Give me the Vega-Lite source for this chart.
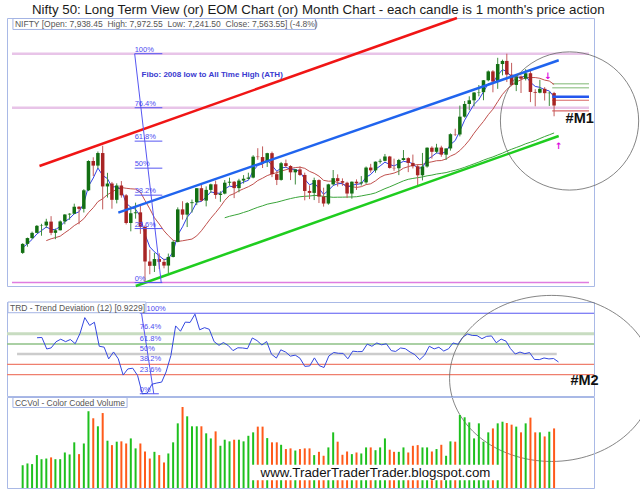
{
"$schema": "https://vega.github.io/schema/vega-lite/v6.json",
"padding": {"left": 5, "top": 2, "right": 0, "bottom": 0},
"background": "white",
"config": {"font": "Liberation Sans", "view": {"stroke": "#a9b9e6", "strokeWidth": 1}},
"title": {"text": "Nifty 50: Long Term View (or) EOM Chart (or) Month Chart - each candle is 1 month's price action", "anchor": "start", "dx": 27, "fontSize": 13.3, "fontWeight": "normal", "font": "Liberation Sans", "color": "#1a1a1a", "offset": 0},
"datasets": {
"m": [
{"d":"2006-08-01","o":3143,"h":3433,"l":3113,"c":3413,"v":139000,"e":3300},
{"d":"2006-09-01","o":3413,"h":3603,"l":3328,"c":3588,"v":150000,"e":3415},
{"d":"2006-10-01","o":3588,"h":3782,"l":3555,"c":3744,"v":146000,"e":3547},
{"d":"2006-11-01","o":3744,"h":3980,"l":3737,"c":3955,"v":201000,"e":3710},
{"d":"2006-12-01","o":3955,"h":4016,"l":3658,"c":3966,"v":176000,"t":1.160,"e":3812},
{"d":"2007-01-01","o":3966,"h":4167,"l":3889,"c":4082,"v":180000,"t":1.163,"e":3920,"s":3511},
{"d":"2007-02-01","o":4082,"h":4245,"l":3675,"c":3745,"v":187000,"t":1.050,"e":3850,"s":3566},
{"d":"2007-03-01","o":3745,"h":3875,"l":3554,"c":3822,"v":176000,"t":1.061,"e":3839,"s":3601},
{"d":"2007-04-01","o":3822,"h":4117,"l":3817,"c":4087,"v":176000,"t":1.121,"e":3938,"s":3645},
{"d":"2007-05-01","o":4087,"h":4306,"l":4002,"c":4295,"v":217000,"t":1.146,"e":4082,"s":3747},
{"d":"2007-06-01","o":4295,"h":4335,"l":4136,"c":4318,"v":205000,"t":1.122,"e":4176,"s":3847},
{"d":"2007-07-01","o":4318,"h":4620,"l":4306,"c":4528,"v":279000,"t":1.143,"e":4317,"s":3962},
{"d":"2007-08-01","o":4528,"h":4545,"l":4002,"c":4464,"v":207000,"t":1.102,"e":4376,"s":4050},
{"d":"2007-09-01","o":4464,"h":5055,"l":4355,"c":5021,"v":272000,"t":1.204,"e":4634,"s":4169},
{"d":"2007-10-01","o":5021,"h":5922,"l":4997,"c":5900,"v":469000,"t":1.357,"e":5140,"s":4349},
{"d":"2007-11-01","o":5900,"h":6012,"l":5450,"c":5762,"v":426000,"t":1.281,"e":5389,"s":4499},
{"d":"2007-12-01","o":5762,"h":6185,"l":5676,"c":6139,"v":377000,"t":1.312,"e":5689,"s":4680},
{"d":"2008-01-01","o":6139,"h":6357,"l":4448,"c":5137,"v":458000,"t":1.077,"e":5468,"s":4768},
{"d":"2008-02-01","o":5137,"h":5545,"l":4803,"c":5224,"v":289000,"t":1.068,"e":5370,"s":4891},
{"d":"2008-03-01","o":5224,"h":5272,"l":4468,"c":4735,"v":262000,"t":0.953,"e":5116,"s":4968},
{"d":"2008-04-01","o":4735,"h":5230,"l":4628,"c":5165,"v":283000,"t":1.021,"e":5136,"s":5057},
{"d":"2008-05-01","o":5165,"h":5298,"l":4801,"c":4870,"v":285000,"t":0.954,"e":5030,"s":5105},
{"d":"2008-06-01","o":4870,"h":4908,"l":3996,"c":4040,"v":272000,"t":0.795,"e":4634,"s":5082},
{"d":"2008-07-01","o":4040,"h":4539,"l":3790,"c":4333,"v":303000,"t":0.855,"e":4514,"s":5066},
{"d":"2008-08-01","o":4333,"h":4650,"l":4170,"c":4360,"v":242000,"t":0.862,"e":4452,"s":5057},
{"d":"2008-09-01","o":4360,"h":4558,"l":3715,"c":3921,"v":272000,"t":0.790,"e":4240,"s":4966},
{"d":"2008-10-01","o":3921,"h":3968,"l":2252,"c":2885,"v":223000,"t":0.612,"e":3698,"s":4714},
{"d":"2008-11-01","o":2885,"h":3240,"l":2502,"c":2755,"v":180000,"t":0.617,"e":3321,"s":4464},
{"d":"2008-12-01","o":2755,"h":3147,"l":2570,"c":2959,"v":221000,"t":0.705,"e":3176,"s":4199},
{"d":"2009-01-01","o":2959,"h":3131,"l":2661,"c":2874,"v":201000,"t":0.717,"e":3055,"s":4010},
{"d":"2009-02-01","o":2874,"h":2968,"l":2681,"c":2763,"v":156000,"t":0.726,"e":2938,"s":3805},
{"d":"2009-03-01","o":2763,"h":3123,"l":2539,"c":3021,"v":211000,"t":0.825,"e":2971,"s":3662},
{"d":"2009-04-01","o":3021,"h":3517,"l":3007,"c":3474,"v":279000,"t":0.987,"e":3172,"s":3521},
{"d":"2009-05-01","o":3474,"h":4509,"l":3460,"c":4449,"v":395000,"t":1.276,"e":3683,"s":3486},
{"d":"2009-06-01","o":4449,"h":4693,"l":4143,"c":4291,"v":495000,"t":1.224,"e":3926,"s":3507},
{"d":"2009-07-01","o":4291,"h":4669,"l":3918,"c":4636,"v":438000,"t":1.313,"e":4210,"s":3532},
{"d":"2009-08-01","o":4636,"h":4744,"l":4353,"c":4662,"v":377000,"t":1.310,"e":4391,"s":3558},
{"d":"2009-09-01","o":4662,"h":5087,"l":4577,"c":5084,"v":377000,"t":1.391,"e":4668,"s":3654},
{"d":"2009-10-01","o":5084,"h":5182,"l":4687,"c":4712,"v":377000,"t":1.238,"e":4686,"s":3807},
{"d":"2009-11-01","o":4712,"h":5138,"l":4538,"c":5033,"v":334000,"t":1.259,"e":4825,"s":3997},
{"d":"2009-12-01","o":5033,"h":5221,"l":4943,"c":5201,"v":303000,"t":1.243,"e":4975,"s":4183},
{"d":"2010-01-01","o":5201,"h":5311,"l":4766,"c":4882,"v":346000,"t":1.122,"e":4938,"s":4351},
{"d":"2010-02-01","o":4882,"h":4992,"l":4675,"c":4922,"v":258000,"t":1.086,"e":4932,"s":4531},
{"d":"2010-03-01","o":4922,"h":5329,"l":4900,"c":5249,"v":295000,"t":1.113,"e":5059,"s":4716,"g":4197},
{"d":"2010-04-01","o":5249,"h":5399,"l":5160,"c":5278,"v":285000,"t":1.084,"e":5147,"s":4867,"g":4241},
{"d":"2010-05-01","o":5278,"h":5300,"l":4786,"c":5087,"v":295000,"t":1.034,"e":5123,"s":4920,"g":4275},
{"d":"2010-06-01","o":5087,"h":5366,"l":4961,"c":5313,"v":295000,"t":1.062,"e":5199,"s":5005,"g":4310},
{"d":"2010-07-01","o":5313,"h":5477,"l":5225,"c":5368,"v":285000,"t":1.060,"e":5267,"s":5066,"g":4356},
{"d":"2010-08-01","o":5368,"h":5549,"l":5348,"c":5402,"v":319000,"t":1.053,"e":5321,"s":5128,"g":4401},
{"d":"2010-09-01","o":5402,"h":6073,"l":5380,"c":6030,"v":340000,"t":1.158,"e":5605,"s":5206,"g":4459},
{"d":"2010-10-01","o":6030,"h":6284,"l":5937,"c":6018,"v":375000,"t":1.132,"e":5770,"s":5315,"g":4511},
{"d":"2010-11-01","o":6018,"h":6338,"l":5690,"c":5863,"v":375000,"t":1.089,"e":5807,"s":5384,"g":4556},
{"d":"2010-12-01","o":5863,"h":6147,"l":5721,"c":6135,"v":305000,"t":1.123,"e":5938,"s":5462,"g":4604},
{"d":"2011-01-01","o":6135,"h":6181,"l":5416,"c":5506,"v":279000,"t":0.999,"e":5765,"s":5514,"g":4635},
{"d":"2011-02-01","o":5506,"h":5600,"l":5178,"c":5333,"v":279000,"t":0.961,"e":5592,"s":5549,"g":4663},
{"d":"2011-03-01","o":5333,"h":5872,"l":5310,"c":5834,"v":264000,"t":1.042,"e":5689,"s":5597,"g":4698},
{"d":"2011-04-01","o":5834,"h":5944,"l":5693,"c":5750,"v":238000,"t":1.020,"e":5713,"s":5637,"g":4738},
{"d":"2011-05-01","o":5750,"h":5775,"l":5328,"c":5560,"v":242000,"t":0.980,"e":5652,"s":5676,"g":4773},
{"d":"2011-06-01","o":5560,"h":5657,"l":5195,"c":5647,"v":229000,"t":0.990,"e":5650,"s":5704,"g":4804},
{"d":"2011-07-01","o":5647,"h":5740,"l":5453,"c":5482,"v":238000,"t":0.960,"e":5583,"s":5713,"g":4828},
{"d":"2011-08-01","o":5482,"h":5551,"l":4720,"c":5001,"v":242000,"t":0.880,"e":5350,"s":5680,"g":4841},
{"d":"2011-09-01","o":5001,"h":5170,"l":4758,"c":4943,"v":242000,"t":0.884,"e":5187,"s":5589,"g":4849},
{"d":"2011-10-01","o":4943,"h":5400,"l":4728,"c":5327,"v":201000,"t":0.963,"e":5243,"s":5532,"g":4867},
{"d":"2011-11-01","o":5327,"h":5350,"l":4639,"c":4832,"v":221000,"t":0.887,"e":5079,"s":5446,"g":4863},
{"d":"2011-12-01","o":4832,"h":5099,"l":4531,"c":4624,"v":197000,"t":0.869,"e":4897,"s":5320,"g":4837},
{"d":"2012-01-01","o":4624,"h":5217,"l":4588,"c":5199,"v":248000,"t":0.982,"e":5018,"s":5294,"g":4826},
{"d":"2012-02-01","o":5199,"h":5630,"l":5159,"c":5385,"v":340000,"t":1.016,"e":5165,"s":5299,"g":4811},
{"d":"2012-03-01","o":5385,"h":5499,"l":5135,"c":5296,"v":283000,"t":1.008,"e":5217,"s":5254,"g":4814},
{"d":"2012-04-01","o":5296,"h":5379,"l":5155,"c":5248,"v":203000,"t":1.007,"e":5229,"s":5212,"g":4815},
{"d":"2012-05-01","o":5248,"h":5279,"l":4789,"c":4924,"v":223000,"t":0.954,"e":5107,"s":5159,"g":4819},
{"d":"2012-06-01","o":4924,"h":5286,"l":4770,"c":5279,"v":207000,"t":1.029,"e":5176,"s":5128,"g":4821},
{"d":"2012-07-01","o":5279,"h":5348,"l":5032,"c":5229,"v":217000,"t":1.024,"e":5197,"s":5107,"g":4828},
{"d":"2012-08-01","o":5229,"h":5448,"l":5164,"c":5259,"v":211000,"t":1.025,"e":5222,"s":5129,"g":4852},
{"d":"2012-09-01","o":5259,"h":5735,"l":5215,"c":5703,"v":248000,"t":1.098,"e":5414,"s":5192,"g":4880},
{"d":"2012-10-01","o":5703,"h":5815,"l":5548,"c":5620,"v":248000,"t":1.077,"e":5496,"s":5217,"g":4905},
{"d":"2012-11-01","o":5620,"h":5885,"l":5548,"c":5880,"v":231000,"t":1.109,"e":5650,"s":5304,"g":4944},
{"d":"2012-12-01","o":5880,"h":5965,"l":5823,"c":5905,"v":248000,"t":1.091,"e":5752,"s":5411,"g":5005},
{"d":"2013-01-01","o":5905,"h":6111,"l":5890,"c":6035,"v":303000,"t":1.101,"e":5865,"s":5480,"g":5070},
{"d":"2013-02-01","o":6035,"h":6053,"l":5671,"c":5693,"v":234000,"t":1.034,"e":5796,"s":5506,"g":5125},
{"d":"2013-03-01","o":5693,"h":5971,"l":5605,"c":5683,"v":221000,"t":1.026,"e":5751,"s":5538,"g":5181},
{"d":"2013-04-01","o":5683,"h":5963,"l":5477,"c":5930,"v":221000,"t":1.060,"e":5823,"s":5595,"g":5244},
{"d":"2013-05-01","o":5930,"h":6229,"l":5910,"c":5986,"v":248000,"t":1.053,"e":5888,"s":5684,"g":5304},
{"d":"2013-06-01","o":5986,"h":6012,"l":5566,"c":5842,"v":217000,"t":1.020,"e":5870,"s":5730,"g":5351},
{"d":"2013-07-01","o":5842,"h":6093,"l":5676,"c":5742,"v":258000,"t":0.995,"e":5819,"s":5773,"g":5377},
{"d":"2013-08-01","o":5742,"h":5808,"l":5119,"c":5471,"v":262000,"t":0.945,"e":5680,"s":5791,"g":5400},
{"d":"2013-09-01","o":5471,"h":6142,"l":5318,"c":5735,"v":248000,"t":0.990,"e":5702,"s":5794,"g":5422},
{"d":"2013-10-01","o":5735,"h":6309,"l":5700,"c":6299,"v":248000,"t":1.077,"e":5941,"s":5850,"g":5455},
{"d":"2013-11-01","o":6299,"h":6342,"l":5972,"c":6176,"v":223000,"t":1.051,"e":6035,"s":5875,"g":5477},
{"d":"2013-12-01","o":6176,"h":6415,"l":6130,"c":6304,"v":238000,"t":1.067,"e":6143,"s":5908,"g":5509},
{"d":"2014-01-01","o":6304,"h":6358,"l":6027,"c":6090,"v":264000,"t":1.030,"e":6122,"s":5913,"g":5530},
{"d":"2014-02-01","o":6090,"h":6282,"l":5933,"c":6277,"v":197000,"t":1.053,"e":6184,"s":5961,"g":5552},
{"d":"2014-03-01","o":6277,"h":6730,"l":6212,"c":6704,"v":285000,"t":1.109,"e":6392,"s":6046,"g":5588},
{"d":"2014-04-01","o":6704,"h":6869,"l":6650,"c":6696,"v":283000,"t":1.096,"e":6514,"s":6110,"g":5623},
{"d":"2014-05-01","o":6696,"h":7563,"l":6638,"c":7230,"v":446000,"t":1.164,"e":6800,"s":6214,"g":5663},
{"d":"2014-06-01","o":7230,"h":7700,"l":7200,"c":7611,"v":432000,"t":1.197,"e":7124,"s":6361,"g":5710},
{"d":"2014-07-01","o":7611,"h":7841,"l":7422,"c":7721,"v":401000,"t":1.183,"e":7363,"s":6526,"g":5762},
{"d":"2014-08-01","o":7721,"h":7968,"l":7540,"c":7954,"v":303000,"t":1.181,"e":7599,"s":6733,"g":5815},
{"d":"2014-09-01","o":7954,"h":8180,"l":7841,"c":7965,"v":395000,"t":1.151,"e":7745,"s":6919,"g":5867},
{"d":"2014-10-01","o":7965,"h":8330,"l":7723,"c":8322,"v":283000,"t":1.174,"e":7976,"s":7088,"g":5926},
{"d":"2014-11-01","o":8322,"h":8617,"l":8290,"c":8588,"v":340000,"t":1.178,"e":8221,"s":7289,"g":5977},
{"d":"2014-12-01","o":8588,"h":8626,"l":7961,"c":8283,"v":364000,"t":1.111,"e":8246,"s":7453,"g":6022},
{"d":"2015-01-01","o":8283,"h":8996,"l":8065,"c":8809,"v":395000,"t":1.147,"e":8471,"s":7680,"g":6081},
{"d":"2015-02-01","o":8809,"h":8941,"l":8470,"c":8902,"v":405000,"t":1.127,"e":8643,"s":7899,"g":6136},
{"d":"2015-03-01","o":8902,"h":9119,"l":8269,"c":8491,"v":397000,"t":1.055,"e":8582,"s":8048,"g":6196},
{"d":"2015-04-01","o":8491,"h":8844,"l":8144,"c":8182,"v":387000,"t":1.001,"e":8422,"s":8172,"g":6253},
{"d":"2015-05-01","o":8182,"h":8490,"l":7997,"c":8434,"v":375000,"t":1.020,"e":8427,"s":8272,"g":6305},
{"d":"2015-06-01","o":8434,"h":8467,"l":7940,"c":8369,"v":340000,"t":1.004,"e":8404,"s":8335,"g":6357},
{"d":"2015-07-01","o":8369,"h":8655,"l":8316,"c":8533,"v":395000,"t":1.015,"e":8456,"s":8403,"g":6417},
{"d":"2015-08-01","o":8533,"h":8622,"l":7667,"c":7971,"v":430000,"t":0.948,"e":8262,"s":8404,"g":6463},
{"d":"2015-09-01","o":7971,"h":8055,"l":7540,"c":7949,"v":340000,"t":0.946,"e":8137,"s":8403,"g":6513},
{"d":"2015-10-01","o":7949,"h":8336,"l":7931,"c":8066,"v":340000,"t":0.962,"e":8109,"s":8381,"g":6574},
{"d":"2015-11-01","o":8066,"h":8116,"l":7714,"c":7935,"v":315000,"t":0.953,"e":8039,"s":8327,"g":6634},
{"d":"2015-12-01","o":7935,"h":7979,"l":7551,"c":7946,"v":344000,"t":0.957,"e":8002,"s":8299,"g":6686},
{"d":"2016-01-01","o":7938,"h":7973,"l":7242,"c":7564,"v":364000,"t":0.923,"e":7826,"s":8195,"g":6741}
],
"pbg": [
{"d":"2006-05-24","d2":"2016-08-14","y":9119,"y2":9119,"k":"pk"},
{"d":"2006-05-24","d2":"2016-08-14","y":7498,"y2":7498,"k":"pk"},
{"d":"2006-05-24","d2":"2016-08-14","y":2252,"y2":2252,"k":"pm"},
{"d":"2015-12-20","d2":"2016-08-14","y":8220,"y2":8220,"k":"sg"},
{"d":"2015-12-20","d2":"2016-08-14","y":8100,"y2":8100,"k":"sg"},
{"d":"2015-12-20","d2":"2016-08-14","y":7722,"y2":7722,"k":"sr"},
{"d":"2015-12-20","d2":"2016-08-14","y":7401,"y2":7401,"k":"sr"}
],
"pfg": [
{"d":"2006-11-18","d2":"2014-04-12","y":5751,"y2":10190,"k":"tr"},
{"d":"2008-04-11","d2":"2016-01-31","y":4350,"y2":8922,"k":"tb"},
{"d":"2008-08-02","d2":"2016-01-31","y":2150,"y2":6651,"k":"tg"},
{"d":"2015-12-20","d2":"2016-08-14","y":7830,"y2":7830,"k":"sb"},
{"d":"2008-07-26","d2":"2009-01-14","y":9119,"y2":2252,"k":"fb"},
{"d":"2008-07-26","d2":"2009-01-21","y":9119,"y2":9119,"k":"fb"},
{"d":"2008-07-26","d2":"2009-01-21","y":7498,"y2":7498,"k":"fb"},
{"d":"2008-07-26","d2":"2009-01-21","y":6496,"y2":6496,"k":"fb"},
{"d":"2008-07-26","d2":"2009-01-21","y":5685,"y2":5685,"k":"fb"},
{"d":"2008-07-26","d2":"2009-01-21","y":4875,"y2":4875,"k":"fb"},
{"d":"2008-07-26","d2":"2009-01-21","y":3873,"y2":3873,"k":"fb"},
{"d":"2008-07-26","d2":"2009-01-21","y":2252,"y2":2252,"k":"fb"}
],
"pfibl": [
{"d":"2008-07-26","y":9119,"txt":"100%"},
{"d":"2008-07-26","y":7498,"txt":"76.4%"},
{"d":"2008-07-26","y":6496,"txt":"61.8%"},
{"d":"2008-07-26","y":5685,"txt":"50%"},
{"d":"2008-07-26","y":4875,"txt":"38.2%"},
{"d":"2008-07-26","y":3873,"txt":"23.6%"},
{"d":"2008-07-26","y":2252,"txt":"0%"}
],
"pbox": [{"d":"2006-05-30","d2":"2011-10-09","y":10175,"y2":9846}],
"pname": [{"d":"2006-06-12","y":10010,"txt":"NIFTY [Open: 7,938.45\u00a0 High: 7,972.55\u00a0 Low: 7,241.50\u00a0 Close: 7,563.55] (-4.8%)"}],
"pfibo": [{"d":"2008-09-09","y":8481,"txt":"Fibo: 2008 low to All Time High (ATH)"}],
"pm1": [{"d":"2016-06-15","y":7170,"txt":"#M1"}],
"parrow": [{"d":"2015-11-22","y":8451,"txt":"↓"},{"d":"2016-01-31","y":6351,"txt":"↑"}],
"pcirc": [{"d":"2016-04-10","y":7101}],
"tl": [{"y":1.2,"k":"g1"},{"y":1.1,"k":"g2"},{"y":0.9,"k":"r"},{"y":0.8,"k":"r"}],
"ts": [
{"d":"2006-07-27","d2":"2015-12-21","y":1.0,"y2":1.0,"k":"gy"},
{"d":"2008-09-15","d2":"2016-08-14","y":1.40,"y2":1.40,"k":"fb"},
{"d":"2008-09-15","d2":"2008-12-13","y":1.51,"y2":0.612,"k":"fb"},
{"d":"2008-09-15","d2":"2009-01-14","y":0.612,"y2":0.612,"k":"fb"}
],
"tfl": [
{"d":"2008-10-28","y":1.40,"txt":"100%"},
{"d":"2008-09-15","y":1.223,"txt":"76.4%"},
{"d":"2008-09-15","y":1.106,"txt":"61.8%"},
{"d":"2008-09-15","y":1.011,"txt":"50%"},
{"d":"2008-09-15","y":0.917,"txt":"38.2%"},
{"d":"2008-09-15","y":0.801,"txt":"23.6%"},
{"d":"2008-09-15","y":0.612,"txt":"0%"}
],
"tbox": [{"d":"2006-05-30","d2":"2008-10-24","y":1.51,"y2":1.405}],
"tname": [{"d":"2006-06-12","y":1.456,"txt":"TRD - Trend Deviation (12) [0.9229]"}],
"tm2": [{"d":"2016-06-15","y":0.732,"txt":"#M2"}],
"tell": [{"d":"2015-11-18","y":0.762}],
"vbox": [{"d":"2006-05-30","d2":"2008-06-07","y":553000,"y2":492000}],
"vname": [{"d":"2006-06-12","y":522000,"txt":"CCVol - Color Coded Volume"}],
"wbox": [{"d":"2010-08-16","d2":"2015-01-17","y":142000,"y2":47000}],
"wtxt": [{"d":"2012-11-01","y":92000,"txt":"www.TraderTraderTrader.blogspot.com"}]
},
"bounds": "flush",
"spacing": 16,
"resolve": {"scale": {"color": "independent", "strokeWidth": "independent"}},
"vconcat": [
{
"width": 587, "height": 268,
"layer": [
{"data": {"name": "pbg"}, "mark": {"type": "rule"},
 "encoding": {
  "x": {"field": "d", "type": "temporal", "scale": {"type": "utc", "domain": [{"year":2006,"month":5,"date":24,"utc":true},{"year":2016,"month":8,"date":14,"utc":true}]},
        "axis": {"values": [{"year":2007,"month":1,"date":1,"utc":true},{"year":2009,"month":1,"date":1,"utc":true},{"year":2011,"month":1,"date":1,"utc":true},{"year":2013,"month":1,"date":1,"utc":true},{"year":2015,"month":1,"date":1,"utc":true}],
                 "format": "%m/%d/%y", "formatType": "utc", "labelFontSize": 9, "labelColor": "#555", "ticks": false, "tickSize": 0, "labelPadding": 4, "domain": false, "grid": true, "gridColor": "#dedede", "title": null}},
  "x2": {"field": "d2"},
  "y": {"field": "y", "type": "quantitative", "scale": {"domain": [2150, 10190], "nice": false, "zero": false},
        "axis": {"orient": "right", "values": [3000,4000,5000,6000,7000,8000,9000], "format": ",.2f", "labelFontSize": 9, "labelColor": "#555", "tickSize": 3, "tickColor": "#999", "labelPadding": 2, "domain": false, "grid": true, "gridColor": "#dedede", "title": null}},
  "y2": {"field": "y2"},
  "color": {"field": "k", "type": "nominal", "scale": {"type": "ordinal", "domain": ["pk","pm","sg","sr","sb","tr","tb","tg","fb"], "range": ["#e8c4e8","#e07ce0","#a9cfa1","#d86666","#2456ee","#f01515","#2064ee","#1fcd1f","#5656f2"]}, "legend": null},
  "strokeWidth": {"field": "k", "type": "nominal", "scale": {"type": "ordinal", "domain": ["pk","pm","sg","sr","sb","tr","tb","tg","fb"], "range": [2.5,1.5,1.5,1.2,2.5,2.5,2.5,2.5,1]}, "legend": null}
 }},
{"data": {"name": "m"}, "mark": {"type": "line", "color": "#3aa53a", "strokeWidth": 1},
 "encoding": {"x": {"field": "d", "type": "temporal", "axis": null}, "y": {"field": "g", "type": "quantitative", "axis": null}}},
{"data": {"name": "m"}, "mark": {"type": "line", "color": "#c0504d", "strokeWidth": 1},
 "encoding": {"x": {"field": "d", "type": "temporal", "axis": null}, "y": {"field": "s", "type": "quantitative", "axis": null}}},
{"data": {"name": "m"}, "mark": {"type": "line", "color": "#3040e6", "strokeWidth": 1},
 "encoding": {"x": {"field": "d", "type": "temporal", "axis": null}, "y": {"field": "e", "type": "quantitative", "axis": null}}},
{"data": {"name": "m"}, "mark": {"type": "rule", "strokeWidth": 1},
 "encoding": {"x": {"field": "d", "type": "temporal", "axis": null}, "y": {"field": "l", "type": "quantitative", "axis": null}, "y2": {"field": "h"},
  "color": {"condition": {"test": "datum.c >= datum.o", "value": "#3f8c3f"}, "value": "#c25a5a"}}},
{"data": {"name": "m"}, "mark": {"type": "bar", "width": 3.5},
 "encoding": {"x": {"field": "d", "type": "temporal", "axis": null}, "y": {"field": "o", "type": "quantitative", "axis": null}, "y2": {"field": "c"},
  "color": {"condition": {"test": "datum.c >= datum.o", "value": "#136f13"}, "value": "#a82424"}}},
{"data": {"name": "pfg"}, "mark": {"type": "rule"},
 "encoding": {
  "x": {"field": "d", "type": "temporal", "axis": null}, "x2": {"field": "d2"},
  "y": {"field": "y", "type": "quantitative", "axis": null}, "y2": {"field": "y2"},
  "color": {"field": "k", "type": "nominal", "scale": {"type": "ordinal", "domain": ["pk","pm","sg","sr","sb","tr","tb","tg","fb"], "range": ["#e8c4e8","#e07ce0","#a9cfa1","#d86666","#2456ee","#f01515","#2064ee","#1fcd1f","#5656f2"]}, "legend": null},
  "strokeWidth": {"field": "k", "type": "nominal", "scale": {"type": "ordinal", "domain": ["pk","pm","sg","sr","sb","tr","tb","tg","fb"], "range": [2.5,1.5,1.5,1.2,2.5,2.5,2.5,2.5,1]}, "legend": null}
 }},
{"data": {"name": "pfibl"}, "mark": {"type": "text", "align": "left", "baseline": "bottom", "fontSize": 7.5, "color": "#4b4bf0"},
 "encoding": {"x": {"field": "d", "type": "temporal", "axis": null}, "y": {"field": "y", "type": "quantitative", "axis": null}, "text": {"field": "txt"}}},
{"data": {"name": "pfibo"}, "mark": {"type": "text", "align": "left", "baseline": "middle", "fontSize": 8, "fontWeight": "bold", "color": "#3a3ad0"},
 "encoding": {"x": {"field": "d", "type": "temporal", "axis": null}, "y": {"field": "y", "type": "quantitative", "axis": null}, "text": {"field": "txt"}}},
{"data": {"name": "pbox"}, "mark": {"type": "rect", "fill": "white", "stroke": "#a4b4e4", "strokeWidth": 1},
 "encoding": {"x": {"field": "d", "type": "temporal", "axis": null}, "x2": {"field": "d2"}, "y": {"field": "y", "type": "quantitative", "axis": null}, "y2": {"field": "y2"}}},
{"data": {"name": "pname"}, "mark": {"type": "text", "align": "left", "baseline": "middle", "fontSize": 8.5, "color": "#555"},
 "encoding": {"x": {"field": "d", "type": "temporal", "axis": null}, "y": {"field": "y", "type": "quantitative", "axis": null}, "text": {"field": "txt"}}},
{"data": {"name": "pm1"}, "mark": {"type": "text", "align": "center", "baseline": "middle", "fontSize": 14.5, "fontWeight": "bold", "color": "#111"},
 "encoding": {"x": {"field": "d", "type": "temporal", "axis": null}, "y": {"field": "y", "type": "quantitative", "axis": null}, "text": {"field": "txt"}}},
{"data": {"name": "parrow"}, "mark": {"type": "text", "align": "center", "baseline": "middle", "fontSize": 9, "fontWeight": "bold", "color": "#dd00dd", "font": "DejaVu Sans"},
 "encoding": {"x": {"field": "d", "type": "temporal", "axis": null}, "y": {"field": "y", "type": "quantitative", "axis": null}, "text": {"field": "txt"}}},
{"data": {"name": "pcirc"}, "mark": {"type": "point", "shape": "circle", "filled": false, "size": 19113, "color": "#666", "strokeWidth": 0.8, "opacity": 1},
 "encoding": {"x": {"field": "d", "type": "temporal", "axis": null}, "y": {"field": "y", "type": "quantitative", "axis": null}}}
]
},
{
"bounds": "flush",
"spacing": 1,
"resolve": {"scale": {"color": "independent", "strokeWidth": "independent"}},
"vconcat": [
{
"width": 587, "height": 94,
"layer": [
{"data": {"name": "tl"}, "mark": {"type": "rule"},
 "encoding": {
  "y": {"field": "y", "type": "quantitative", "scale": {"domain": [0.59, 1.51], "nice": false, "zero": false},
        "axis": {"orient": "right", "values": [0.7,0.8,0.9,1.0,1.1,1.2,1.3], "format": ".2f", "labelFontSize": 9, "labelColor": "#555", "tickSize": 3, "tickColor": "#999", "labelPadding": 2, "domain": false, "grid": true, "gridColor": "#dedede", "title": null}},
  "color": {"field": "k", "type": "nominal", "scale": {"type": "ordinal", "domain": ["g1","g2","gy","r","fb"], "range": ["#c8dcc1","#8ec086","#cccccc","#ef7f6e","#5656f2"]}, "legend": null},
  "strokeWidth": {"field": "k", "type": "nominal", "scale": {"type": "ordinal", "domain": ["g1","g2","gy","r","fb"], "range": [3,1.5,2.5,1.2,1]}, "legend": null}
 }},
{"data": {"name": "ts"}, "mark": {"type": "rule"},
 "encoding": {
  "x": {"field": "d", "type": "temporal", "scale": {"type": "utc", "domain": [{"year":2006,"month":5,"date":24,"utc":true},{"year":2016,"month":8,"date":14,"utc":true}]},
        "axis": {"values": [{"year":2007,"month":1,"date":1,"utc":true},{"year":2009,"month":1,"date":1,"utc":true},{"year":2011,"month":1,"date":1,"utc":true},{"year":2013,"month":1,"date":1,"utc":true},{"year":2015,"month":1,"date":1,"utc":true}],
                 "labels": false, "ticks": false, "domain": false, "grid": true, "gridColor": "#dedede", "title": null}},
  "x2": {"field": "d2"},
  "y": {"field": "y", "type": "quantitative", "axis": null}, "y2": {"field": "y2"},
  "color": {"field": "k", "type": "nominal", "scale": {"type": "ordinal", "domain": ["g1","g2","gy","r","fb"], "range": ["#c8dcc1","#8ec086","#cccccc","#ef7f6e","#5656f2"]}, "legend": null},
  "strokeWidth": {"field": "k", "type": "nominal", "scale": {"type": "ordinal", "domain": ["g1","g2","gy","r","fb"], "range": [3,1.5,2.5,1.2,1]}, "legend": null}
 }},
{"data": {"name": "m"}, "mark": {"type": "line", "color": "#3448e0", "strokeWidth": 1},
 "encoding": {"x": {"field": "d", "type": "temporal", "axis": null}, "y": {"field": "t", "type": "quantitative", "axis": null}}},
{"data": {"name": "tfl"}, "mark": {"type": "text", "align": "left", "baseline": "bottom", "fontSize": 7.5, "color": "#4b4bf0"},
 "encoding": {"x": {"field": "d", "type": "temporal", "axis": null}, "y": {"field": "y", "type": "quantitative", "axis": null}, "text": {"field": "txt"}}},
{"data": {"name": "tbox"}, "mark": {"type": "rect", "fill": "white", "stroke": "#a4b4e4", "strokeWidth": 1},
 "encoding": {"x": {"field": "d", "type": "temporal", "axis": null}, "x2": {"field": "d2"}, "y": {"field": "y", "type": "quantitative", "axis": null}, "y2": {"field": "y2"}}},
{"data": {"name": "tname"}, "mark": {"type": "text", "align": "left", "baseline": "middle", "fontSize": 8.5, "color": "#555"},
 "encoding": {"x": {"field": "d", "type": "temporal", "axis": null}, "y": {"field": "y", "type": "quantitative", "axis": null}, "text": {"field": "txt"}}},
{"data": {"name": "tm2"}, "mark": {"type": "text", "align": "center", "baseline": "middle", "fontSize": 14.5, "fontWeight": "bold", "color": "#111"},
 "encoding": {"x": {"field": "d", "type": "temporal", "axis": null}, "y": {"field": "y", "type": "quantitative", "axis": null}, "text": {"field": "txt"}}},
{"data": {"name": "tell"}, "mark": {"type": "point", "shape": "M-1,0C-1,-0.45,-0.552,-0.814,0,-0.814C0.552,-0.814,1,-0.45,1,0C1,0.45,0.552,0.814,0,0.814C-0.552,0.814,-1,0.45,-1,0Z", "filled": false, "size": 41616, "color": "#666", "strokeWidth": 0.8, "opacity": 1},
 "encoding": {"x": {"field": "d", "type": "temporal", "axis": null}, "y": {"field": "y", "type": "quantitative", "axis": null}}}
]
},
{
"width": 587, "height": 91,
"layer": [
{"data": {"name": "m"}, "mark": {"type": "bar", "width": 2},
 "encoding": {
  "x": {"field": "d", "type": "temporal", "scale": {"type": "utc", "domain": [{"year":2006,"month":5,"date":24,"utc":true},{"year":2016,"month":8,"date":14,"utc":true}]},
        "axis": {"values": [{"year":2007,"month":1,"date":1,"utc":true},{"year":2009,"month":1,"date":1,"utc":true},{"year":2011,"month":1,"date":1,"utc":true},{"year":2013,"month":1,"date":1,"utc":true},{"year":2015,"month":1,"date":1,"utc":true}],
                 "labels": false, "ticks": false, "domain": false, "grid": true, "gridColor": "#dedede", "title": null}},
  "y": {"field": "v", "type": "quantitative", "scale": {"domain": [0, 556000], "nice": false},
        "axis": {"orient": "right", "values": [50000,150000,250000,350000], "format": ",d", "labelFontSize": 9, "labelColor": "#555", "tickSize": 3, "tickColor": "#999", "labelPadding": 2, "domain": false, "grid": true, "gridColor": "#dedede", "title": null}},
  "color": {"condition": {"test": "datum.c >= datum.o", "value": "#1ec01e"}, "value": "#ff5a1a"}
 }},
{"data": {"name": "wbox"}, "mark": {"type": "rect", "fill": "white"},
 "encoding": {"x": {"field": "d", "type": "temporal", "axis": null}, "x2": {"field": "d2"}, "y": {"field": "y", "type": "quantitative", "axis": null}, "y2": {"field": "y2"}}},
{"data": {"name": "wtxt"}, "mark": {"type": "text", "align": "center", "baseline": "middle", "fontSize": 13.3, "color": "#111"},
 "encoding": {"x": {"field": "d", "type": "temporal", "axis": null}, "y": {"field": "y", "type": "quantitative", "axis": null}, "text": {"field": "txt"}}},
{"data": {"name": "vbox"}, "mark": {"type": "rect", "fill": "white", "stroke": "#a4b4e4", "strokeWidth": 1},
 "encoding": {"x": {"field": "d", "type": "temporal", "axis": null}, "x2": {"field": "d2"}, "y": {"field": "y", "type": "quantitative", "axis": null}, "y2": {"field": "y2"}}},
{"data": {"name": "vname"}, "mark": {"type": "text", "align": "left", "baseline": "middle", "fontSize": 8.5, "color": "#555"},
 "encoding": {"x": {"field": "d", "type": "temporal", "axis": null}, "y": {"field": "y", "type": "quantitative", "axis": null}, "text": {"field": "txt"}}}
]
}
]
}
]
}
